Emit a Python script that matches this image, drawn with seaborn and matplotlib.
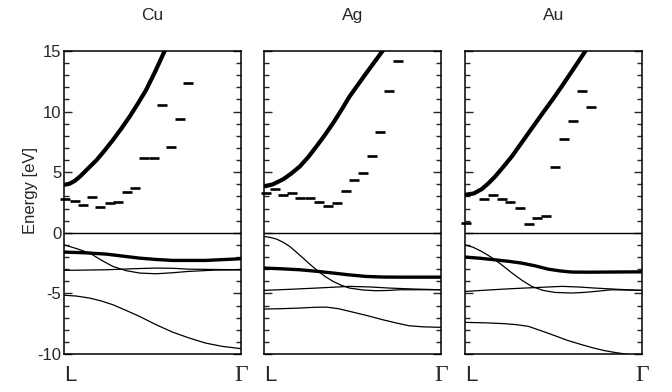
import matplotlib
matplotlib.use("Agg")
import matplotlib.pyplot as plt
import seaborn as sns
import pandas as pd
from matplotlib.ticker import MultipleLocator

# ---- data (x = fraction of the path L -> Gamma, E in eV) ---------------------
METALS = ["Cu", "Ag", "Au"]

# thick free-electron-like band above E_F
cu_fe_x = [0.0, 0.03, 0.06, 0.09, 0.13, 0.184, 0.23, 0.277, 0.324, 0.371, 0.417, 0.464,
           0.515, 0.567, 0.62]
cu_fe_e = [3.96, 4.04, 4.28, 4.64, 5.22, 6.0, 6.8, 7.67, 8.6, 9.59, 10.65, 11.79,
           13.3, 14.95, 16.6]
ag_fe_x = [0.0, 0.05, 0.109, 0.155, 0.202, 0.25, 0.296, 0.343, 0.39, 0.437, 0.483, 0.53,
           0.577, 0.622, 0.667, 0.72]
ag_fe_e = [3.82, 4.0, 4.42, 4.9, 5.47, 6.25, 7.12, 8.05, 9.04, 10.12, 11.24, 12.2,
           13.16, 14.05, 14.95, 16.0]
au_fe_x = [0.0, 0.05, 0.094, 0.13, 0.17, 0.217, 0.264, 0.311, 0.358, 0.405, 0.452, 0.5,
           0.546, 0.612, 0.678, 0.72]
au_fe_e = [3.13, 3.25, 3.6, 4.05, 4.64, 5.45, 6.29, 7.25, 8.22, 9.18, 10.14, 11.1,
           12.07, 13.5, 14.95, 15.9]

# measured states (short horizontal bars)
cu_exp_x = [0.006, 0.06, 0.108, 0.159, 0.204, 0.258, 0.307, 0.358, 0.403,
            0.453, 0.506, 0.552, 0.605, 0.657, 0.702]
cu_exp_e = [2.80, 2.64, 2.33, 2.97, 2.09, 2.45, 2.55, 3.35, 3.71,
            6.18, 6.2, 10.53, 7.07, 9.37, 12.39]
ag_exp_x = [0.01, 0.062, 0.109, 0.161, 0.206, 0.258, 0.311, 0.361, 0.412,
            0.461, 0.508, 0.558, 0.608, 0.657, 0.708, 0.755]
ag_exp_e = [3.27, 3.6, 3.08, 3.27, 2.91, 2.86, 2.56, 2.17, 2.5,
            3.41, 4.37, 4.92, 6.37, 8.35, 11.68, 14.18]
au_exp_x = [0.006, 0.109, 0.156, 0.207, 0.256, 0.311, 0.36, 0.408, 0.459,
            0.508, 0.559, 0.61, 0.659, 0.712]
au_exp_e = [0.77, 2.78, 3.08, 2.78, 2.58, 2.06, 0.69, 1.24, 1.4,
            5.44, 7.72, 9.2, 11.68, 10.39]

# occupied d-like bands
cu_thick_x = [0.0, 0.12, 0.24, 0.33, 0.427, 0.52, 0.614, 0.80, 1.0]
cu_thick_e = [-1.59, -1.65, -1.76, -1.92, -2.09, -2.2, -2.28, -2.28, -2.14]
cu_cross_x = [0.0, 0.07, 0.146, 0.21, 0.277, 0.35, 0.427, 0.52, 0.61, 0.70, 0.85, 1.0]
cu_cross_e = [-0.99, -1.3, -1.68, -2.25, -2.78, -3.12, -3.32, -3.38, -3.3, -3.19, -3.08, -3.05]
cu_flat_x = [0.0, 0.24, 0.4, 0.52, 0.62, 0.70, 1.0]
cu_flat_e = [-3.1, -3.05, -2.96, -2.91, -2.93, -3.0, -3.05]
cu_low_x = [0.0, 0.07, 0.146, 0.21, 0.277, 0.35, 0.427, 0.52, 0.614, 0.707, 0.80, 0.894, 1.0]
cu_low_e = [-5.15, -5.22, -5.39, -5.62, -5.94, -6.4, -6.9, -7.58, -8.2, -8.68, -9.1, -9.37,
            -9.56]

ag_thick_x = [0.0, 0.1, 0.202, 0.3, 0.39, 0.48, 0.577, 0.67, 0.764, 1.0]
ag_thick_e = [-2.91, -2.97, -3.05, -3.18, -3.32, -3.47, -3.6, -3.65, -3.66, -3.66]
ag_cross_x = [0.0, 0.035, 0.071, 0.108, 0.146, 0.183, 0.221, 0.258, 0.296, 0.343, 0.39,
              0.437, 0.483, 0.56, 0.633, 0.7, 0.764, 1.0]
ag_cross_e = [-0.3, -0.38, -0.52, -0.78, -1.13, -1.6, -2.09, -2.58, -3.05, -3.58, -4.01,
              -4.33, -4.56, -4.72, -4.78, -4.76, -4.7, -4.7]
ag_flat_x = [0.0, 0.15, 0.296, 0.39, 0.483, 0.6, 0.708, 0.85, 1.0]
ag_flat_e = [-4.75, -4.66, -4.56, -4.49, -4.42, -4.47, -4.56, -4.64, -4.7]
ag_low_x = [0.0, 0.1, 0.202, 0.28, 0.352, 0.42, 0.483, 0.58, 0.67, 0.75, 0.82, 0.9, 1.0]
ag_low_e = [-6.29, -6.26, -6.21, -6.15, -6.13, -6.26, -6.48, -6.82, -7.17, -7.45, -7.67,
            -7.76, -7.8]

au_thick_x = [0.0, 0.085, 0.17, 0.245, 0.32, 0.395, 0.47, 0.54, 0.603, 0.7, 0.79, 1.0]
au_thick_e = [-2.0, -2.1, -2.23, -2.35, -2.5, -2.72, -3.0, -3.15, -3.24, -3.25, -3.24, -3.22]
au_cross_x = [0.0, 0.047, 0.094, 0.13, 0.17, 0.217, 0.264, 0.32, 0.377, 0.44, 0.508, 0.603,
              0.67, 0.734, 0.829, 1.0]
au_cross_e = [-0.99, -1.2, -1.54, -1.85, -2.23, -2.75, -3.3, -3.9, -4.42, -4.75, -4.92,
              -4.97, -4.92, -4.84, -4.7, -4.75]
au_flat_x = [0.0, 0.11, 0.226, 0.32, 0.414, 0.546, 0.64, 0.734, 0.86, 1.0]
au_flat_e = [-4.84, -4.74, -4.64, -4.57, -4.51, -4.42, -4.47, -4.56, -4.66, -4.75]
au_low_x = [0.0, 0.12, 0.226, 0.29, 0.358, 0.43, 0.508, 0.58, 0.659, 0.73, 0.791, 0.85,
            0.904, 1.0]
au_low_e = [-7.39, -7.43, -7.5, -7.58, -7.72, -8.08, -8.49, -8.88, -9.23, -9.52, -9.73,
            -9.88, -10.0, -10.2]

PANELS = {
    "Cu": dict(fe=(cu_fe_x, cu_fe_e), exp=(cu_exp_x, cu_exp_e), thick=(cu_thick_x, cu_thick_e),
               thin=[(cu_cross_x, cu_cross_e), (cu_flat_x, cu_flat_e), (cu_low_x, cu_low_e)]),
    "Ag": dict(fe=(ag_fe_x, ag_fe_e), exp=(ag_exp_x, ag_exp_e), thick=(ag_thick_x, ag_thick_e),
               thin=[(ag_cross_x, ag_cross_e), (ag_flat_x, ag_flat_e), (ag_low_x, ag_low_e)]),
    "Au": dict(fe=(au_fe_x, au_fe_e), exp=(au_exp_x, au_exp_e), thick=(au_thick_x, au_thick_e),
               thin=[(au_cross_x, au_cross_e), (au_flat_x, au_flat_e), (au_low_x, au_low_e)]),
}

sns.set_style("ticks")
plt.rcParams["font.family"] = ["Liberation Sans", "DejaVu Sans"]
plt.rcParams["axes.unicode_minus"] = False

fig = plt.figure(figsize=(6.72, 3.92), dpi=100)
lefts = [64, 264, 465]
W, H = 672.0, 392.0


def line(ax, xy, lw):
    df = pd.DataFrame({"x": xy[0], "E": xy[1]})
    sns.lineplot(data=df, x="x", y="E", ax=ax, color="black", lw=lw,
                 sort=False, estimator=None, solid_joinstyle="round",
                 solid_capstyle="butt")


for i, metal in enumerate(METALS):
    ax = fig.add_axes([lefts[i] / W, 38 / H, 177 / W, 303 / H])
    p = PANELS[metal]
    ax.axhline(0, color="black", lw=1.0)
    line(ax, p["fe"], 3.0)
    line(ax, p["thick"], 2.4)
    for band in p["thin"]:
        line(ax, band, 0.9)
    exp = pd.DataFrame({"x": p["exp"][0], "E": p["exp"][1]})
    sns.scatterplot(data=exp, x="x", y="E", ax=ax, marker="_", s=42,
                    color="black", linewidth=1.9, clip_on=False, zorder=5)

    ax.set_xlim(0, 1)
    ax.set_ylim(-10, 15)
    ax.yaxis.set_major_locator(MultipleLocator(5))
    ax.yaxis.set_minor_locator(MultipleLocator(1))
    ax.tick_params(axis="y", which="major", direction="in", length=6, width=1,
                   left=True, right=True, labelsize=12, pad=2)
    ax.tick_params(axis="y", which="minor", direction="in", length=3.5, width=1,
                   left=True, right=True)
    ax.set_xticks([])
    for s in ax.spines.values():
        s.set_linewidth(1.1)
        s.set_color("black")
    ax.set_xlabel("")
    if i == 0:
        ax.set_ylabel("Energy [eV]", fontsize=12)
        ax.yaxis.set_label_coords(-0.145, 0.54)
    else:
        ax.set_ylabel("")
        ax.tick_params(axis="y", labelleft=False)
    ax.set_title(metal, fontsize=12.5, pad=22)
    ax.text(0, -0.07, "L", transform=ax.transAxes, ha="left", va="center", fontsize=16)
    ax.text(1, -0.07, "Γ", transform=ax.transAxes, ha="center", va="center", fontsize=17,
            family=["Liberation Serif", "DejaVu Serif"])

fig.savefig("out.png", dpi=100)
